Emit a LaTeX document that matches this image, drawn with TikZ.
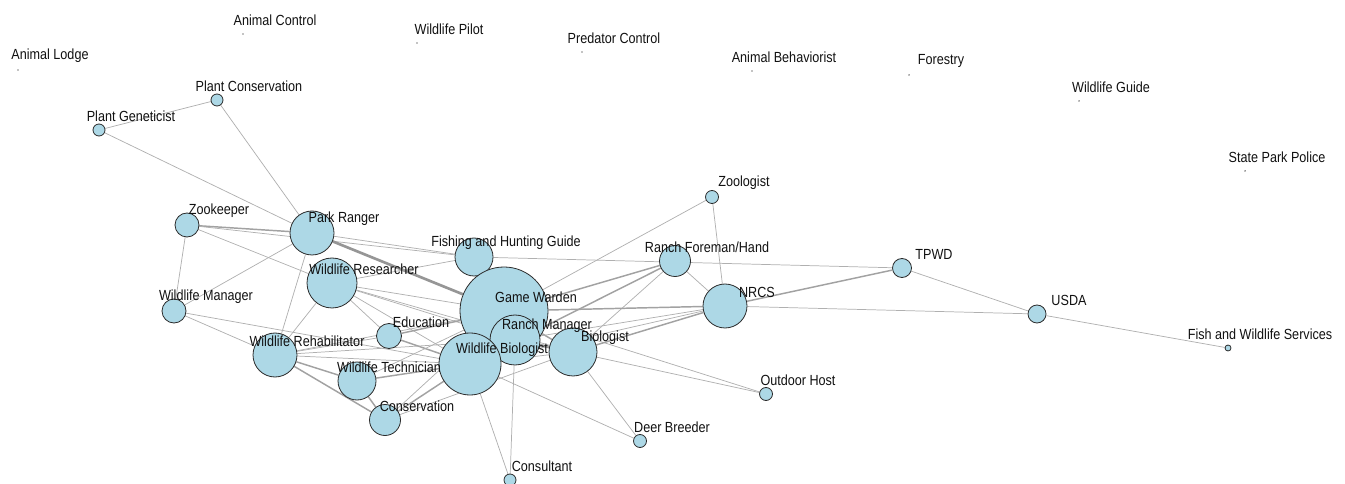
\documentclass[tikz,border=0pt]{standalone}
\usepackage{fontspec}
\setmainfont{Liberation Sans}
\newfontfamily\lblfont[FakeStretch=0.86]{Liberation Sans}
\usetikzlibrary{backgrounds}
\definecolor{VBlue}{HTML}{ADD8E6}
\definecolor{VRim}{HTML}{2B2B2B}
\definecolor{EGray}{HTML}{B0B0B0}
\definecolor{LInk}{HTML}{111111}

\begin{document}
\begin{tikzpicture}[
  x=0.75pt,y=-0.75pt,
  vtx/.style={circle,draw=VRim,line width=0.6pt,fill=VBlue,inner sep=0pt,
    minimum size=#1*1.5pt},
  dot/.style={circle,fill=black,inner sep=0pt,minimum size=1.1pt},
  lbl/.style={font=\lblfont\fontsize{11}{12}\selectfont,text=LInk,inner sep=0pt},
  link/.style={draw=EGray,line width=0.55pt},
  mlink/.style={draw=EGray!92!black,line width=1.1pt},
  tlink/.style={draw=EGray!85!black,line width=2pt}
]
  \useasboundingbox (0,0) rectangle (1345,484);

  % isolated jobs
  \node[dot] (lodge)  at (18,70)   {};
  \node[dot] (actl)   at (243,34)  {};
  \node[dot] (pilot)  at (417,43)  {};
  \node[dot] (pred)   at (582,52)  {};
  \node[dot] (behav)  at (752,71)  {};
  \node[dot] (forest) at (909,75)  {};
  \node[dot] (wguide) at (1079,101) {};
  \node[dot] (police) at (1245,171) {};

  % connected jobs
  \node[vtx=6]    (pgen) at (99,130)  {};
  \node[vtx=6]    (pcon) at (217,100) {};
  \node[vtx=12]   (zkp)  at (187,225) {};
  \node[vtx=22]   (pr)   at (312,233) {};
  \node[vtx=12]   (wm)   at (174,311) {};
  \node[vtx=25]   (wrs)  at (332,283) {};
  \node[vtx=12.5] (edu)  at (389,336) {};
  \node[vtx=22]   (wrh)  at (275,355) {};
  \node[vtx=19]   (wt)   at (357,381) {};
  \node[vtx=15.5] (cnsv) at (385,420) {};
  \node[vtx=19]   (fhg)  at (474,257) {};
  \node[vtx=44]   (gw)   at (504,311) {};
  \node[vtx=25]   (rm)   at (515,340) {};
  \node[vtx=31]   (wb)   at (470,364) {};
  \node[vtx=24]   (bio)  at (573,352) {};
  \node[vtx=6]    (cslt) at (510,480) {};
  \node[vtx=6.5]  (deer) at (640,441) {};
  \node[vtx=6.5]  (host) at (766,394) {};
  \node[vtx=15.5] (rfh)  at (675,261) {};
  \node[vtx=6.5]  (zlg)  at (712,197) {};
  \node[vtx=22]   (nrcs) at (725,306) {};
  \node[vtx=9.5]  (tpwd) at (902,268) {};
  \node[vtx=9]    (usda) at (1037,314) {};
  \node[vtx=3]    (fws)  at (1228,348) {};

  \begin{scope}[on background layer]
    \draw[link] (pgen) -- (pcon);
    \draw[link] (pgen) -- (pr);
    \draw[link] (pcon) -- (pr);
    \draw[mlink] (zkp) -- (pr);
    \draw[link] (zkp) -- (fhg);
    \draw[link] (zkp) -- (wrs);
    \draw[link] (zkp) -- (wm);
    \draw[link] (wm) -- (pr);
    \draw[link] (wm) -- (wrh);
    \draw[link] (wm) -- (wb);
    \draw[tlink] (pr) -- (gw);
    \draw[link] (pr) -- (fhg);
    \draw[link] (pr) -- (wrh);
    \draw[link] (wrs) -- (fhg);
    \draw[link] (wrs) -- (gw);
    \draw[link] (wrs) -- (rm);
    \draw[link] (wrs) -- (bio);
    \draw[link] (wrs) -- (edu);
    \draw[link] (wrs) -- (wrh);
    \draw[link] (wrs) -- (wb);
    \draw[link] (fhg) -- (tpwd);
    \draw[mlink] (edu) -- (gw);
    \draw[mlink] (edu) -- (wb);
    \draw[link] (edu) -- (wrh);
    \draw[link] (wrh) -- (wb);
    \draw[link] (wrh) -- (gw);
    \draw[link] (wrh) -- (rm);
    \draw[mlink] (wrh) -- (wt);
    \draw[mlink] (wrh) -- (cnsv);
    \draw[mlink] (wt) -- (wb);
    \draw[link] (wt) -- (gw);
    \draw[mlink] (wt) -- (cnsv);
    \draw[mlink] (cnsv) -- (wb);
    \draw[link] (cnsv) -- (bio);
    \draw[link] (cnsv) -- (gw);
    \draw[link] (wb) -- (cslt);
    \draw[link] (rm) -- (cslt);
    \draw[link] (wb) -- (deer);
    \draw[link] (bio) -- (deer);
    \draw[link] (bio) -- (host);
    \draw[link] (gw) -- (host);
    \draw[link] (gw) -- (zlg);
    \draw[link] (zlg) -- (nrcs);
    \draw[mlink] (rfh) -- (gw);
    \draw[mlink] (rfh) -- (wb);
    \draw[link] (rfh) -- (bio);
    \draw[link] (rfh) -- (nrcs);
    \draw[mlink] (gw) -- (nrcs);
    \draw[mlink] (gw) -- (bio);
    \draw[tlink] (rm) -- (bio);
    \draw[link] (wb) -- (bio);
    \draw[mlink] (bio) -- (nrcs);
    \draw[link] (rm) -- (nrcs);
    \draw[link] (wb) -- (nrcs);
    \draw[mlink] (nrcs) -- (tpwd);
    \draw[link] (nrcs) -- (usda);
    \draw[link] (tpwd) -- (usda);
    \draw[link] (usda) -- (fws);
  \end{scope}

  % labels, set over every circle
  \node[lbl] (lodge-t)  at ([shift={(32,-14)}]lodge.center)  {Animal Lodge};
  \node[lbl] (actl-t)   at ([shift={(32,-14)}]actl.center)   {Animal Control};
  \node[lbl] (pilot-t)  at ([shift={(32,-14)}]pilot.center)  {Wildlife Pilot};
  \node[lbl] (pred-t)   at ([shift={(32,-14)}]pred.center)   {Predator Control};
  \node[lbl] (behav-t)  at ([shift={(32,-14)}]behav.center)  {Animal Behaviorist};
  \node[lbl] (forest-t) at ([shift={(32,-14)}]forest.center) {Forestry};
  \node[lbl] (wguide-t) at ([shift={(32,-14)}]wguide.center) {Wildlife Guide};
  \node[lbl] (police-t) at ([shift={(32,-14)}]police.center) {State Park Police};
  \node[lbl] (pgen-t) at ([shift={(32,-14)}]pgen.center) {Plant Geneticist};
  \node[lbl] (pcon-t) at ([shift={(32,-14)}]pcon.center) {Plant Conservation};
  \node[lbl] (zkp-t)  at ([shift={(32,-14)}]zkp.center)  {Zookeeper};
  \node[lbl] (pr-t)   at ([shift={(32,-14)}]pr.center)   {Park Ranger};
  \node[lbl] (wm-t)   at ([shift={(32,-14)}]wm.center)   {Wildlife Manager};
  \node[lbl] (wrs-t)  at ([shift={(32,-14)}]wrs.center)  {Wildlife Researcher};
  \node[lbl] (edu-t)  at ([shift={(32,-14)}]edu.center)  {Education};
  \node[lbl] (wrh-t)  at ([shift={(32,-14)}]wrh.center)  {Wildlife Rehabilitator};
  \node[lbl] (wt-t)   at ([shift={(32,-14)}]wt.center)   {Wildlife Technician};
  \node[lbl] (cnsv-t) at ([shift={(32,-14)}]cnsv.center) {Conservation};
  \node[lbl] (fhg-t)  at ([shift={(32,-14)}]fhg.center)  {Fishing and Hunting Guide};
  \node[lbl] (gw-t)   at ([shift={(32,-14)}]gw.center)   {Game Warden};
  \node[lbl] (rm-t)   at ([shift={(32,-14)}]rm.center)   {Ranch Manager};
  \node[lbl] (wb-t)   at ([shift={(32,-14)}]wb.center)   {Wildlife Biologist};
  \node[lbl] (bio-t)  at ([shift={(32,-14)}]bio.center)  {Biologist};
  \node[lbl] (cslt-t) at ([shift={(32,-14)}]cslt.center) {Consultant};
  \node[lbl] (deer-t) at ([shift={(32,-14)}]deer.center) {Deer Breeder};
  \node[lbl] (host-t) at ([shift={(32,-14)}]host.center) {Outdoor Host};
  \node[lbl] (rfh-t)  at ([shift={(32,-14)}]rfh.center)  {Ranch Foreman/Hand};
  \node[lbl] (zlg-t)  at ([shift={(32,-14)}]zlg.center)  {Zoologist};
  \node[lbl] (nrcs-t) at ([shift={(32,-14)}]nrcs.center) {NRCS};
  \node[lbl] (tpwd-t) at ([shift={(32,-14)}]tpwd.center) {TPWD};
  \node[lbl] (usda-t) at ([shift={(32,-14)}]usda.center) {USDA};
  \node[lbl] (fws-t)  at ([shift={(32,-14)}]fws.center)  {Fish and Wildlife Services};
\end{tikzpicture}
\end{document}
